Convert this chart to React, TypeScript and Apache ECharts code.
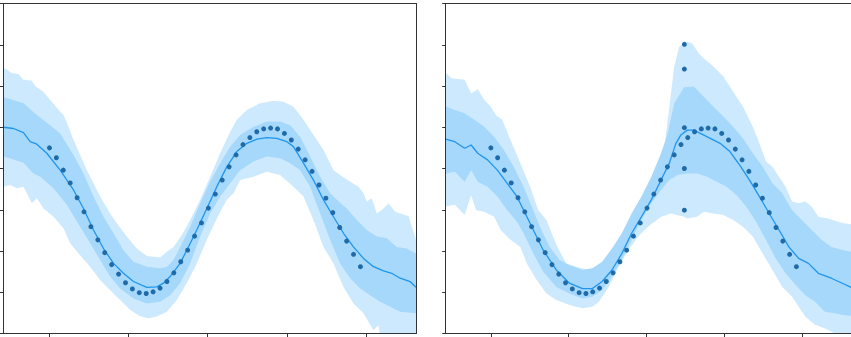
import { useEffect, useRef } from "react";
import * as echarts from "echarts";

// ---- observed series (x = step index 0..45) ----
const observed = [
  4.5, 4.26, 3.96, 3.65, 3.29, 2.95, 2.59, 2.27, 1.96, 1.67,
  1.44, 1.23, 1.08, 0.99, 0.97, 1.01, 1.1, 1.26, 1.47, 1.74,
  2.02, 2.36, 2.68, 3.04, 3.38, 3.72, 4.04, 4.33, 4.58, 4.75,
  4.89, 4.96, 4.98, 4.96, 4.85, 4.69, 4.47, 4.21, 3.93, 3.6,
  3.28, 2.93, 2.57, 2.24, 1.92, 1.62,
];
// extra observations at one step in the second panel
const spikeX = 28.5;
const spikeValues = [7.01, 6.41, 4.99, 4.0, 2.99];

// ---- axis ----
const xMin = -6.65;
const xMax = 53.04;
const xTicks = [0, 11.45, 22.9, 34.35, 45.8];
const yMin = 0;
const yMax = 8;

// ---- panel 1 forecast ----
const leftOuterUpper = [
  [-6.65, 6.43], [-6.17, 6.4], [-5.45, 6.31], [-4.48, 6.29], [-3.76, 6.15], [-2.55, 6.13],
  [-2.07, 6.0], [-0.86, 5.86], [0.1, 5.66], [0.83, 5.52], [1.31, 5.42], [2.03, 5.3],
  [2.75, 5.01], [3.48, 4.69], [4.44, 4.33], [5.41, 3.96], [6.37, 3.64], [7.34, 3.32],
  [8.78, 2.91], [9.75, 2.67], [11.19, 2.35], [12.64, 2.06], [14.09, 1.88], [16.02, 1.84],
  [16.98, 1.98], [17.95, 2.1], [19.15, 2.39], [20.36, 2.75], [21.81, 3.24], [23.25, 3.8],
  [24.7, 4.37], [26.15, 4.89], [27.11, 5.18], [28.56, 5.42], [30.49, 5.58], [32.42, 5.64],
  [33.86, 5.62], [35.31, 5.5], [36.76, 5.18], [38.2, 4.81], [39.65, 4.45], [41.1, 3.96],
  [42.06, 3.84], [43.51, 3.68], [44.71, 3.56], [45.44, 3.4], [45.92, 3.2], [46.65, 3.28],
  [47.37, 2.91], [48.33, 3.03], [49.06, 3.15], [50.02, 2.95], [50.75, 2.91], [51.95, 2.85],
  [53.04, 2.27],
];
const leftInnerUpper = [
  [-6.65, 5.73], [-5.2, 5.66], [-3.76, 5.58], [-1.83, 5.3], [0.1, 5.05], [1.55, 4.85],
  [3.48, 4.33], [4.92, 3.88], [6.37, 3.32], [7.82, 2.83], [9.27, 2.43], [10.71, 2.02],
  [12.15, 1.74], [14.09, 1.62], [16.02, 1.58], [16.98, 1.62], [17.95, 1.78], [18.91, 2.1],
  [20.36, 2.59], [21.81, 3.16], [23.25, 3.68], [24.7, 4.13], [26.15, 4.53], [27.59, 4.81],
  [29.53, 5.01], [31.45, 5.14], [33.38, 5.14], [34.83, 5.05], [36.27, 4.77], [37.72, 4.29],
  [39.17, 3.8], [40.61, 3.4], [41.58, 3.24], [43.03, 3.03], [44.47, 2.75], [45.92, 2.51],
  [47.37, 2.35], [48.81, 2.31], [50.26, 2.1], [51.71, 2.06], [53.04, 1.94],
];
const leftMedian = [
  [-6.65, 5.0], [-5.2, 4.97], [-3.76, 4.87], [-2.79, 4.65], [-1.83, 4.59], [-0.38, 4.37],
  [1.55, 3.96], [3.48, 3.48], [4.92, 3.03], [6.37, 2.51], [7.82, 2.06], [9.27, 1.7],
  [10.71, 1.46], [12.15, 1.26], [14.09, 1.12], [15.53, 1.13], [16.5, 1.22], [17.46, 1.38],
  [18.91, 1.7], [19.87, 2.02], [21.32, 2.51], [22.77, 3.03], [24.22, 3.56], [25.66, 4.04],
  [27.11, 4.41], [28.56, 4.61], [30.01, 4.71], [31.45, 4.75], [32.9, 4.73], [34.35, 4.65],
  [35.31, 4.53], [36.76, 4.13], [38.2, 3.72], [39.65, 3.24], [41.1, 2.83], [42.55, 2.43],
  [43.99, 2.1], [45.44, 1.82], [46.89, 1.62], [48.33, 1.52], [49.54, 1.46], [50.75, 1.34],
  [52.19, 1.26], [53.04, 1.12],
];
const leftInnerLower = [
  [-6.65, 4.29], [-5.2, 4.22], [-3.76, 4.14], [-2.31, 3.88], [-1.34, 3.8], [0.58, 3.52],
  [2.51, 3.12], [4.44, 2.59], [5.89, 2.19], [7.34, 1.78], [8.78, 1.38], [10.23, 1.09],
  [12.15, 0.85], [14.09, 0.73], [16.02, 0.77], [17.46, 0.93], [18.91, 1.22], [20.36, 1.7],
  [21.81, 2.35], [23.25, 2.91], [24.7, 3.32], [26.15, 3.64], [27.59, 3.96], [29.53, 4.17],
  [31.45, 4.29], [33.38, 4.25], [34.83, 4.13], [36.27, 3.96], [37.72, 3.56], [39.17, 2.91],
  [40.61, 2.27], [42.06, 1.7], [43.51, 1.34], [44.96, 1.09], [46.4, 0.93], [47.85, 0.77],
  [49.3, 0.65], [50.75, 0.53], [53.04, 0.49],
];
const leftOuterLower = [
  [-6.65, 3.56], [-5.69, 3.6], [-4.72, 3.52], [-3.76, 3.56], [-3.03, 3.32], [-2.55, 3.16],
  [-1.83, 3.28], [-0.86, 3.03], [0.58, 2.83], [2.03, 2.55], [2.99, 2.19], [4.44, 1.9],
  [5.89, 1.62], [7.34, 1.3], [8.78, 1.05], [10.23, 0.81], [11.68, 0.57], [13.12, 0.42],
  [14.33, 0.37], [15.53, 0.41], [16.98, 0.53], [18.43, 0.81], [19.87, 1.22], [21.32, 1.7],
  [22.77, 2.27], [24.22, 2.79], [25.66, 3.24], [26.63, 3.4], [27.59, 3.72], [29.53, 3.8],
  [31.45, 3.92], [33.38, 3.84], [35.31, 3.56], [36.76, 3.32], [38.2, 2.75], [39.65, 2.1],
  [41.1, 1.7], [42.55, 1.13], [43.99, 0.73], [45.44, 0.49], [46.4, 0.21], [46.89, 0.08],
  [47.6, 0.2], [47.85, -0.08], [53.04, -0.08],
];

// ---- panel 2 forecast ----
const rightOuterUpper = [
  [-6.66, 6.32], [-5.79, 6.19], [-3.86, 6.15], [-2.9, 5.82], [-1.93, 5.92], [-0.97, 5.66],
  [0.0, 5.5], [0.72, 5.3], [1.68, 5.18], [2.89, 4.69], [4.34, 4.13], [5.78, 3.56],
  [6.99, 2.99], [8.19, 2.75], [9.64, 2.15], [11.09, 1.7], [12.53, 1.62], [14.46, 1.54],
  [15.91, 1.62], [17.36, 1.78], [18.8, 2.1], [20.25, 2.51], [21.7, 3.07], [23.15, 3.56],
  [24.59, 4.04], [25.56, 4.53], [26.29, 5.5], [27.01, 6.47], [27.73, 6.95], [28.94, 7.07],
  [29.66, 7.03], [30.62, 6.79], [31.34, 6.67], [32.79, 6.47], [34.24, 6.23], [35.69, 5.86],
  [37.14, 5.5], [38.58, 5.01], [39.55, 4.61], [40.51, 4.17], [41.47, 4.04], [42.44, 3.8],
  [43.4, 3.56], [44.37, 3.2], [45.33, 3.16], [46.3, 3.2], [47.26, 3.07], [48.23, 2.83],
  [49.68, 2.79], [51.12, 2.71], [51.99, 2.67], [53.04, 2.65],
];
const rightInnerUpper = [
  [-6.66, 5.51], [-5.31, 5.42], [-3.86, 5.34], [-2.42, 5.18], [-0.97, 5.01], [0.48, 4.77],
  [1.92, 4.45], [3.37, 4.04], [4.82, 3.56], [6.26, 2.99], [7.23, 2.59], [8.68, 2.1],
  [10.12, 1.78], [11.57, 1.66], [13.5, 1.54], [14.95, 1.58], [16.39, 1.74], [17.84, 2.06],
  [19.29, 2.43], [20.73, 2.91], [22.18, 3.32], [23.63, 3.8], [25.07, 4.37], [26.04, 4.85],
  [27.01, 5.58], [28.45, 5.97], [29.9, 5.99], [31.35, 5.74], [32.79, 5.5], [34.24, 5.26],
  [35.69, 5.01], [37.14, 4.73], [38.58, 4.37], [40.03, 4.04], [41.47, 3.64], [42.92, 3.4],
  [44.37, 2.99], [45.81, 2.75], [47.26, 2.51], [48.71, 2.27], [50.15, 2.1], [51.99, 2.02],
  [53.04, 1.98],
];
const rightMedian = [
  [-6.66, 4.71], [-5.31, 4.65], [-3.86, 4.49], [-2.9, 4.57], [-1.93, 4.37], [-0.49, 4.21],
  [0.96, 3.96], [2.41, 3.64], [3.85, 3.32], [4.82, 2.99], [6.26, 2.51], [7.71, 2.02],
  [9.64, 1.54], [11.57, 1.22], [13.5, 1.09], [14.95, 1.09], [16.39, 1.26], [17.84, 1.54],
  [19.29, 1.94], [20.73, 2.43], [22.18, 2.83], [23.63, 3.24], [25.07, 3.72], [26.29, 4.13],
  [27.25, 4.61], [27.97, 4.81], [28.94, 4.93], [29.9, 4.93], [30.86, 4.85], [32.31, 4.73],
  [33.76, 4.61], [35.21, 4.41], [36.65, 4.08], [38.1, 3.72], [39.55, 3.32], [41.0, 2.91],
  [42.44, 2.51], [43.89, 2.1], [45.33, 1.82], [46.78, 1.7], [48.23, 1.46], [50.15, 1.34],
  [51.99, 1.2], [53.04, 1.12],
];
const rightInnerLower = [
  [-6.66, 3.88], [-5.31, 3.92], [-3.86, 3.68], [-2.9, 3.96], [-1.93, 3.68], [-0.49, 3.56],
  [0.96, 3.32], [2.41, 2.99], [3.85, 2.71], [4.82, 2.43], [6.26, 1.94], [7.71, 1.5],
  [9.64, 1.13], [11.57, 0.97], [13.5, 0.85], [14.95, 0.89], [16.39, 1.05], [17.84, 1.38],
  [19.29, 1.78], [20.73, 2.27], [22.18, 2.75], [23.63, 3.16], [25.07, 3.48], [26.29, 3.72],
  [27.49, 3.84], [28.94, 3.88], [30.38, 3.88], [31.83, 3.8], [33.28, 3.68], [34.72, 3.56],
  [36.17, 3.36], [37.62, 3.07], [39.06, 2.71], [40.51, 2.27], [41.96, 1.82], [43.4, 1.46],
  [44.85, 1.18], [46.3, 0.93], [47.74, 0.77], [49.19, 0.53], [50.64, 0.49], [51.99, 0.45],
  [53.04, 0.43],
];
const rightOuterLower = [
  [-6.66, 3.08], [-5.31, 3.12], [-3.86, 2.87], [-2.9, 3.36], [-2.18, 2.99], [-0.97, 2.95],
  [0.48, 2.83], [1.44, 2.51], [2.89, 2.27], [4.34, 2.1], [5.3, 1.7], [6.75, 1.3],
  [8.19, 0.97], [9.64, 0.81], [11.57, 0.69], [13.5, 0.61], [14.95, 0.65], [15.91, 0.77],
  [17.36, 1.13], [18.8, 1.62], [20.25, 2.02], [21.7, 2.35], [23.15, 2.59], [25.07, 2.83],
  [26.52, 2.91], [28.45, 2.83], [28.94, 2.79], [30.38, 2.83], [31.35, 2.95], [32.79, 2.91],
  [34.24, 2.87], [35.69, 2.75], [37.14, 2.59], [38.58, 2.35], [40.03, 1.94], [41.47, 1.54],
  [42.92, 1.13], [44.37, 0.89], [45.33, 0.65], [46.3, 0.41], [47.74, 0.21], [49.19, 0.13],
  [50.64, 0.0], [51.99, -0.04], [53.04, -0.05],
];

const OUTER_COLOR = "#cde9fd";
const INNER_COLOR = "#a6d8fb";
const LINE_COLOR = "#1f95ee";
const DOT_COLOR = "#1f6aa8";
const FRAME_COLOR = "#333333";

function bandSeries(upper: number[][], lower: number[][], fill: string, idx: number, z: number) {
  return {
    type: "custom",
    xAxisIndex: idx * 2,
    yAxisIndex: idx * 2,
    clip: true,
    silent: true,
    z,
    data: [[upper[0][0], upper[0][1]]],
    renderItem: (params: any, api: any) => {
      const pts = upper
        .map((p) => api.coord(p))
        .concat(lower.slice().reverse().map((p) => api.coord(p)));
      return {
        type: "polygon",
        shape: { points: pts },
        style: { fill, stroke: null },
      };
    },
  };
}

function panelAxes(gridIndex: number) {
  const lineStyle = { color: FRAME_COLOR, width: 1 };
  const tick = { show: true, inside: false, length: 3.5, lineStyle };
  return {
    x: [
      {
        type: "value",
        gridIndex,
        min: xMin,
        max: xMax,
        position: "bottom",
        z: 10,
        axisLine: { show: true, onZero: false, lineStyle },
        axisTick: { ...tick, customValues: xTicks },
        axisLabel: { show: false, customValues: xTicks },
        splitLine: { show: false },
      },
      {
        type: "value",
        gridIndex,
        min: xMin,
        max: xMax,
        position: "top",
        z: 10,
        axisLine: { show: true, onZero: false, lineStyle },
        axisTick: { show: false },
        axisLabel: { show: false },
        splitLine: { show: false },
      },
    ],
    y: [
      {
        type: "value",
        gridIndex,
        min: yMin,
        max: yMax,
        interval: 1,
        position: "left",
        z: 10,
        axisLine: { show: true, onZero: false, lineStyle },
        axisTick: tick,
        axisLabel: { show: false },
        splitLine: { show: false },
      },
      {
        type: "value",
        gridIndex,
        min: yMin,
        max: yMax,
        position: "right",
        z: 10,
        axisLine: { show: true, onZero: false, lineStyle },
        axisTick: { show: false },
        axisLabel: { show: false },
        splitLine: { show: false },
      },
    ],
  };
}

export default function App() {
  const ref = useRef<HTMLDivElement>(null);

  useEffect(() => {
    if (!ref.current) return;
    document.body.style.margin = "0";
    const chart = echarts.init(ref.current, undefined, { renderer: "svg" });

    const a0 = panelAxes(0);
    const a1 = panelAxes(1);
    const obsPoints = observed.map((v, i) => [i, v]);
    const spikePoints = spikeValues.map((v) => [spikeX, v]);

    const panels = [
      { idx: 0, ou: leftOuterUpper, iu: leftInnerUpper, med: leftMedian, il: leftInnerLower, ol: leftOuterLower, dots: obsPoints },
      { idx: 1, ou: rightOuterUpper, iu: rightInnerUpper, med: rightMedian, il: rightInnerLower, ol: rightOuterLower, dots: obsPoints.concat(spikePoints) },
    ];

    const series: any[] = [];
    panels.forEach((p) => {
      series.push(bandSeries(p.ou, p.ol, OUTER_COLOR, p.idx, 1));
      series.push(bandSeries(p.iu, p.il, INNER_COLOR, p.idx, 2));
      series.push({
        type: "line",
        xAxisIndex: p.idx * 2,
        yAxisIndex: p.idx * 2,
        data: p.med,
        showSymbol: false,
        symbol: "none",
        clip: true,
        silent: true,
        z: 3,
        lineStyle: { color: LINE_COLOR, width: 1.3 },
      });
      series.push({
        type: "scatter",
        xAxisIndex: p.idx * 2,
        yAxisIndex: p.idx * 2,
        data: p.dots,
        symbol: "circle",
        symbolSize: 5,
        silent: true,
        z: 4,
        itemStyle: { color: DOT_COLOR, opacity: 1 },
      });
    });

    chart.setOption({
      animation: false,
      backgroundColor: "#ffffff",
      grid: [
        { left: 3.5, top: 3.5, width: 412.5, height: 330, show: false },
        { left: 445.7, top: 3.5, width: 412.5, height: 330, show: false },
      ],
      xAxis: [...a0.x, ...a1.x],
      yAxis: [...a0.y, ...a1.y],
      series,
    });

    return () => {
      chart.dispose();
    };
  }, []);

  return (
    <div
      ref={ref}
      style={{ position: "absolute", left: 0, top: 0, width: 851, height: 337 }}
    />
  );
}
